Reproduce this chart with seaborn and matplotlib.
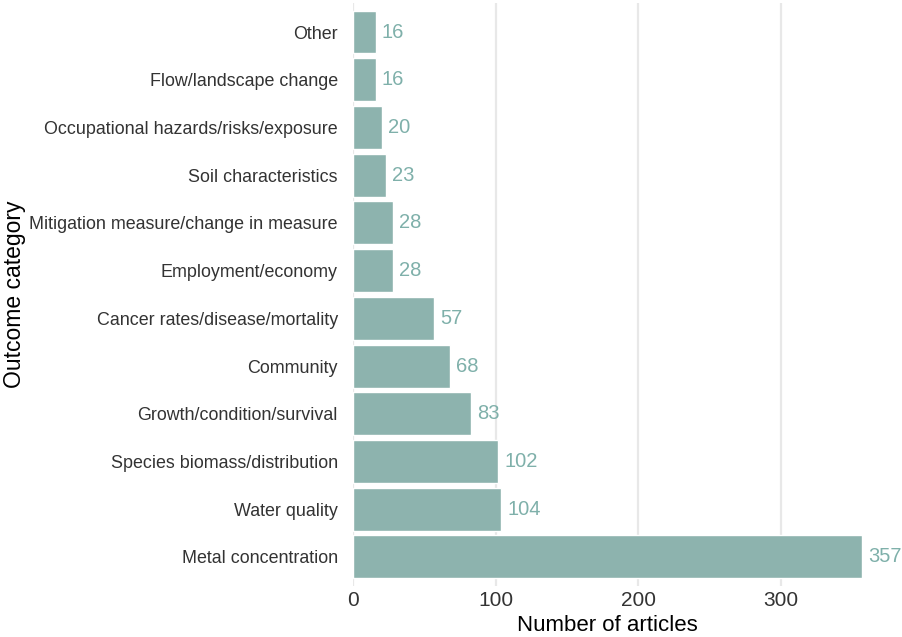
import pandas as pd
import matplotlib.pyplot as plt
import seaborn as sns

categories = ['Other', 'Flow/landscape change', 'Occupational hazards/risks/exposure',
              'Soil characteristics', 'Mitigation measure/change in measure',
              'Employment/economy', 'Cancer rates/disease/mortality', 'Community',
              'Growth/condition/survival', 'Species biomass/distribution',
              'Water quality', 'Metal concentration']
counts = [16, 16, 20, 23, 28, 28, 57, 68, 83, 102, 104, 357]

df = pd.DataFrame({'Outcome': categories, 'Articles': counts})

sns.set_theme(style='whitegrid')
plt.rcParams['font.family'] = ['Liberation Sans', 'DejaVu Sans']

fig = plt.figure(figsize=(9.02, 6.37), dpi=100)
ax = fig.add_axes([0.3914, 0.0807, 0.5643, 0.914])

sns.barplot(data=df, y='Outcome', x='Articles', color='#8db3ae', saturation=1,
            width=0.9, ax=ax, order=categories)

for i, v in enumerate(counts):
    ax.annotate(str(v), xy=(v, i), xytext=(4.3, 0), textcoords='offset points',
                ha='left', va='center', fontsize=14.5, color='#7fb0aa',
                annotation_clip=False)

ax.set_xlim(0, 357)
ax.set_ylim(len(categories) - 0.4, -0.6)
ax.set_xticks([0, 100, 200, 300])
ax.grid(axis='x', color='#e8e8e8', linewidth=1.6)
ax.grid(axis='y', visible=False)
ax.set_axisbelow(True)
for s in ax.spines.values():
    s.set_visible(False)
ax.tick_params(axis='y', length=0, pad=11, labelsize=12.85, labelcolor='#333333')
ax.tick_params(axis='x', length=0, pad=4, labelsize=15, labelcolor='#333333')
ax.set_xlabel('Number of articles', fontsize=16, color='black')
ax.set_ylabel('Outcome category', fontsize=16.5, color='black')
ax.xaxis.set_label_coords(0.5, -0.05)
ax.yaxis.set_label_coords(-0.643, 0.5)

fig.savefig('out.png', dpi=100)
